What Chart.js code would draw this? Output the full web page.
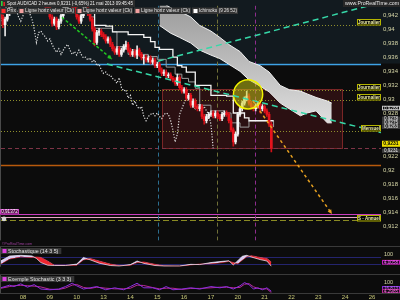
<!DOCTYPE html>
<html>
<head>
<meta charset="utf-8">
<title>Spot AUD/CAD 2 heures</title>
<script src="https://cdn.jsdelivr.net/npm/chart.js@4.4.0/dist/chart.umd.min.js"></script>
<style>
  html, body { margin: 0; padding: 0; background: #0c0c0c; }
  #wrap { position: relative; width: 400px; height: 300px; overflow: hidden; background: #0c0c0c; }
  #wrap canvas { position: absolute; left: 0; }
  .sep { position: absolute; left: 0; width: 400px; height: 1px; background: #3a3a3a; }
</style>
</head>
<body>
<div id="wrap">
  <canvas id="mainChart" width="400" height="246" style="top:0px"></canvas>
  <div class="sep" style="top:246px"></div>
  <canvas id="stochChart" width="400" height="26" style="top:247px"></canvas>
  <div class="sep" style="top:274px"></div>
  <canvas id="stoch2Chart" width="400" height="25" style="top:275px"></canvas>
  <div class="sep" style="top:293px"></div>
</div>
<script>
// ---- data (2h bars, bar 0 = start of 08 May) ----
const firstBar = -10;

const opens = [
  0.9420,0.9417,0.9406,0.9414,0.9422,0.9433,0.9439,0.9444,0.9447,0.9441,
  0.9447,0.9450,0.9444,0.9439,0.9444,0.9450,0.9447,0.9441,0.9439,0.9444,
  0.9439,0.9433,0.9430,0.9417,0.9408,0.9414,0.9403,0.9411,0.9419,0.9428,
  0.9433,0.9436,0.9439,0.9433,0.9428,0.9417,0.9411,0.9419,0.9428,0.9430,
  0.9422,0.9414,0.9400,0.9381,0.9395,0.9397,0.9392,0.9389,0.9383,0.9386,
  0.9378,0.9372,0.9367,0.9372,0.9364,0.9370,0.9375,0.9378,0.9370,0.9364,
  0.9368,0.9363,0.9370,0.9364,0.9359,0.9360,0.9356,0.9359,0.9353,0.9356,
  0.9348,0.9350,0.9342,0.9337,0.9339,0.9334,0.9335,0.9330,0.9328,0.9323,
  0.9331,0.9317,0.9312,0.9314,0.9302,0.9306,0.9292,0.9298,0.9290,0.9287,
  0.9290,0.9276,0.9270,0.9276,0.9279,0.9281,0.9277,0.9281,0.9276,0.9273,
  0.9279,0.9281,0.9279,0.9270,0.9257,0.9240,0.9251,0.9279,0.9287,0.9295,
  0.9301,0.9305,0.9295,0.9290,0.9287,0.9291,0.9294,0.9287,0.9290,0.9284,
  0.9279,0.9265
];
const highs = [
  0.9424,0.9420,0.9417,0.9426,0.9436,0.9442,0.9447,0.9450,0.9450,0.9450,
  0.9453,0.9453,0.9447,0.9447,0.9453,0.9453,0.9450,0.9444,0.9447,0.9447,
  0.9442,0.9436,0.9433,0.9420,0.9417,0.9417,0.9414,0.9422,0.9431,0.9436,
  0.9439,0.9442,0.9442,0.9436,0.9431,0.9420,0.9422,0.9431,0.9433,0.9433,
  0.9425,0.9417,0.9403,0.9398,0.9401,0.9400,0.9395,0.9392,0.9389,0.9389,
  0.9381,0.9375,0.9375,0.9375,0.9373,0.9378,0.9383,0.9381,0.9373,0.9371,
  0.9371,0.9376,0.9373,0.9367,0.9363,0.9363,0.9362,0.9362,0.9359,0.9359,
  0.9353,0.9353,0.9345,0.9342,0.9342,0.9338,0.9338,0.9333,0.9331,0.9336,
  0.9334,0.9320,0.9317,0.9317,0.9309,0.9309,0.9301,0.9301,0.9293,0.9293,
  0.9293,0.9279,0.9279,0.9282,0.9284,0.9284,0.9284,0.9284,0.9279,0.9282,
  0.9284,0.9284,0.9282,0.9273,0.9260,0.9254,0.9282,0.9290,0.9298,0.9304,
  0.9312,0.9308,0.9298,0.9293,0.9294,0.9297,0.9297,0.9293,0.9293,0.9287,
  0.9282,0.9268
];
const lows = [
  0.9413,0.9402,0.9390,0.9411,0.9419,0.9430,0.9436,0.9441,0.9438,0.9438,
  0.9444,0.9441,0.9436,0.9436,0.9441,0.9444,0.9438,0.9436,0.9436,0.9436,
  0.9430,0.9426,0.9414,0.9404,0.9405,0.9399,0.9400,0.9408,0.9416,0.9425,
  0.9430,0.9433,0.9430,0.9425,0.9414,0.9408,0.9408,0.9416,0.9425,0.9419,
  0.9411,0.9397,0.9376,0.9378,0.9391,0.9389,0.9386,0.9380,0.9380,0.9375,
  0.9369,0.9364,0.9364,0.9361,0.9361,0.9367,0.9372,0.9367,0.9361,0.9361,
  0.9360,0.9358,0.9361,0.9356,0.9350,0.9353,0.9353,0.9350,0.9350,0.9345,
  0.9345,0.9339,0.9334,0.9334,0.9331,0.9331,0.9327,0.9325,0.9320,0.9320,
  0.9314,0.9309,0.9309,0.9299,0.9299,0.9289,0.9289,0.9287,0.9284,0.9284,
  0.9273,0.9265,0.9267,0.9273,0.9276,0.9274,0.9274,0.9273,0.9270,0.9270,
  0.9276,0.9276,0.9267,0.9254,0.9234,0.9237,0.9248,0.9276,0.9284,0.9292,
  0.9298,0.9292,0.9287,0.9284,0.9284,0.9288,0.9281,0.9284,0.9281,0.9276,
  0.9262,0.9226
];
const closes = [
  0.9417,0.9406,0.9414,0.9422,0.9433,0.9439,0.9444,0.9447,0.9441,0.9447,
  0.9450,0.9444,0.9439,0.9444,0.9450,0.9447,0.9441,0.9439,0.9444,0.9439,
  0.9433,0.9430,0.9417,0.9408,0.9414,0.9403,0.9411,0.9419,0.9428,0.9433,
  0.9436,0.9439,0.9433,0.9428,0.9417,0.9411,0.9419,0.9428,0.9430,0.9422,
  0.9414,0.9400,0.9381,0.9395,0.9397,0.9392,0.9389,0.9383,0.9386,0.9378,
  0.9372,0.9367,0.9372,0.9364,0.9370,0.9375,0.9378,0.9370,0.9364,0.9368,
  0.9363,0.9370,0.9364,0.9359,0.9360,0.9356,0.9359,0.9353,0.9356,0.9348,
  0.9350,0.9342,0.9337,0.9339,0.9334,0.9335,0.9330,0.9328,0.9323,0.9331,
  0.9317,0.9312,0.9314,0.9302,0.9306,0.9292,0.9298,0.9290,0.9287,0.9290,
  0.9276,0.9270,0.9276,0.9279,0.9281,0.9277,0.9281,0.9276,0.9273,0.9279,
  0.9281,0.9279,0.9270,0.9257,0.9240,0.9251,0.9279,0.9287,0.9295,0.9301,
  0.9305,0.9295,0.9290,0.9287,0.9291,0.9294,0.9287,0.9290,0.9284,0.9279,
  0.9265,0.9231
];

// Ichimoku (9 26 52)
const kijunX = [28, 32, 37, 40, 47, 54, 57, 59, 61, 67, 69, 71, 73, 77, 84, 91, 94, 99, 101, 112];
const kijunY = [0.9425, 0.9405, 0.9404, 0.9396, 0.9392, 0.9388, 0.9382, 0.9374, 0.9371, 0.9360,
                0.9348, 0.9346, 0.9339, 0.9320, 0.9306, 0.9305, 0.9281, 0.9274, 0.9270, 0.9270];
const tenkanX = [30, 32, 40, 42, 45, 47, 53, 56, 60, 64, 68, 71, 74, 77, 79, 84, 90, 93, 97, 101, 107, 112];
const tenkanY = [0.9417, 0.9401, 0.9396, 0.9375, 0.9371, 0.9364, 0.9364, 0.9361, 0.9357, 0.9346, 0.9336,
                 0.9330, 0.9325, 0.9316, 0.9292, 0.9284, 0.9281, 0.9267, 0.9261, 0.9270, 0.9270, 0.9261];
const cloudX = [61, 66, 70, 75, 79, 84, 88, 92, 97, 101, 106, 110, 115, 119, 124, 127, 131, 136, 138];
const cloudTop = [0.9440, 0.9430, 0.9425, 0.9417, 0.9405, 0.9397, 0.9388, 0.9378, 0.9368, 0.9354,
                  0.9348, 0.9339, 0.9320, 0.9314, 0.9312, 0.9308, 0.9303, 0.9298, 0.9295];
const cloudBottom = [0.9405, 0.9394, 0.9388, 0.9380, 0.9370, 0.9363, 0.9358, 0.9350, 0.9340, 0.9328,
                     0.9319, 0.9311, 0.9295, 0.9287, 0.9277, 0.9281, 0.9284, 0.9267, 0.9267];
const chikouShift = 26;

// Stochastique (14 3 5)
const stochX = [-10, -6, -1, 4, 6, 8, 11, 14, 19, 24, 27, 30, 34, 39, 43, 48, 51, 54, 59, 63,
                70, 75, 79, 84, 89, 92, 94, 96, 98, 100, 102, 106, 109, 111];
const stochK = [48, 90, 96, 91, 70, 35, 13, 10, 10, 22, 78, 58, 30, 10, 5, 18, 48, 28, 10, 5,
                6, 20, 18, 35, 45, 50, 15, 50, 88, 96, 82, 60, 48, 4.0058];
const stochD = [22, 65, 83, 78, 82, 78, 48, 13, 12, 13, 57, 70, 48, 22, 10, 12, 35, 40, 20, 8,
                5, 15, 22, 25, 35, 45, 35, 25, 55, 83, 93, 78, 70, 39.158];

// Exemple Stochastic (3 3 3)
const stoch2X = [-10, -6, -4, -1, 2, 5, 8, 12, 16, 19, 22, 24, 27, 30, 33, 37, 41, 45, 48, 51,
                 54, 58, 61, 64, 67, 71, 75, 79, 84, 88, 91, 94, 97, 99, 101, 103, 105, 107, 109, 111];
const stoch2A = [50, 75, 62, 88, 56, 81, 38, 31, 38, 62, 94, 69, 38, 50, 62, 31, 50, 31, 62, 94,
                 50, 50, 31, 62, 31, 38, 50, 38, 62, 50, 62, 38, 69, 100, 81, 38, 50, 31, 50, 16.813];
const stoch2B = [45, 62, 70, 74, 70, 66, 58, 36, 34, 48, 76, 82, 54, 44, 56, 46, 40, 40, 46, 76,
                 72, 52, 40, 46, 46, 34, 44, 44, 50, 56, 56, 50, 54, 84, 90, 60, 44, 40, 40, 4.2985];

// x axis
const dayBars = [0, 12, 24, 36, 48, 60, 72, 84, 96, 108, 120, 132, 144, 156];
const dayLabels = ['08', '09', '10', '13', '14', '15', '16', '17', '20', '21', '22', '23', '24', '26'];
const priceTicksHidden = [0.926, 0.924];

// drawn objects (bar index / price)
const hLines = [
  { v: 0.9405, color: '#8e8e2c', dash: [1, 2], w: 1 },
  { v: 0.9351, color: '#3ea2e6', dash: [], w: 1.5 },
  { v: 0.9313, color: '#8e8e2c', dash: [1, 2], w: 1 },
  { v: 0.9299, color: '#8e8e2c', dash: [1, 2], w: 1 },
  { v: 0.9255, color: '#8e8e2c', dash: [1, 2], w: 1 },
  { v: 0.92315, color: '#7e3446', dash: [4, 3], w: 1 },
  { v: 0.9207, color: '#b85a0c', dash: [], w: 1.5 },
  { v: 0.91372, color: '#c93cc0', dash: [], w: 1 },
  { v: 0.9134, color: '#e6a6c6', dash: [], w: 1 },
  { v: 0.9130, color: '#8a8a22', dash: [6, 3], w: 1 }
];
const lineTags = [
  { v: 0.9405, text: 'Journalier' },
  { v: 0.9313, text: 'Journalier' },
  { v: 0.9299, text: 'Journalier' },
  { v: 0.9255, text: 'Mensuel' },
  { v: 0.9134, text: 'S - Annuel' }
];
const vLines = [
  { x: 60.3, color: '#2d6f90' },
  { x: 86.7, color: '#707038' },
  { x: 103.7, color: '#8e2e8e' }
];
const trendLines = [
  { x1: 60.3, y1: 0.93544, x2: 160, y2: 0.94375, color: '#36d8a8', dash: [6, 4], arrow: false },
  { x1: 37.5, y1: 0.93503, x2: 160, y2: 0.92533, color: '#36d8a8', dash: [6, 4], arrow: false },
  { x1: 17.4, y1: 0.94165, x2: 39.8, y2: 0.93572, color: '#22c422', dash: [3, 2], arrow: true },
  { x1: 102.8, y1: 0.92979, x2: 138.1, y2: 0.91378, color: '#e6a020', dash: [3, 3], arrow: true }
];
const zoneRect = { x1: 62.1, y1: 0.93144, x2: 142.6, y2: 0.92303 };
const circle = { x: 100.6, y: 0.93075, r: 0.00207 };
const axisTags = [
  { v: 0.9288, dy: 0, text: '0,9288', kind: 'outline' },
  { v: 0.9278, dy: 3.6, text: '0,9278', kind: 'gray' },
  { v: 0.9275, dy: 5.4, text: '0,9275', kind: 'gray' },
  { v: 0.9263, dy: 1.2, text: '0,9263', kind: 'gray' },
  { v: 0.9231, dy: -4.5, text: '0,9231', kind: 'yellow' },
  { v: 0.9231, dy: 2.5, text: '0,9231', kind: 'gray' }
];

const X_MIN = -9.834, X_MAX = 160.02;
const FONT = '"Liberation Sans", Arial, sans-serif';
Chart.defaults.font.family = FONT;

function fmtPrice(v) {
  const s = Number(v.toFixed(3));
  if (priceTicksHidden.includes(s)) return '';
  return String(s).replace('.', ',');
}

function rightAxis(width) {
  return function (scale) { scale.width = width; };
}

function drawBox(ctx, x, y, w, h, bg, border, fg, text, font) {
  ctx.fillStyle = bg;
  ctx.fillRect(x, y, w, h);
  if (border) {
    ctx.strokeStyle = border;
    ctx.lineWidth = 1;
    ctx.setLineDash([]);
    ctx.strokeRect(x + 0.5, y + 0.5, w - 1, h - 1);
  }
  ctx.fillStyle = fg;
  ctx.font = font;
  ctx.textAlign = 'center';
  ctx.textBaseline = 'middle';
  ctx.fillText(text, x + w / 2, y + h / 2 + 0.3, w - 2);
}

function drawArrowHead(ctx, x1, y1, x2, y2, color) {
  const a = Math.atan2(y2 - y1, x2 - x1);
  const s = 5;
  ctx.setLineDash([]);
  ctx.fillStyle = color;
  ctx.beginPath();
  ctx.moveTo(x2, y2);
  ctx.lineTo(x2 - s * Math.cos(a - 0.45), y2 - s * Math.sin(a - 0.45));
  ctx.lineTo(x2 - s * Math.cos(a + 0.45), y2 - s * Math.sin(a + 0.45));
  ctx.closePath();
  ctx.fill();
}

// main panel drawings
const mainDecor = {
  id: 'mainDecor',
  beforeDraw(chart) {
    const ctx = chart.ctx, ys = chart.scales.y;
    ctx.save();
    ctx.fillStyle = '#0c0c0c';
    ctx.fillRect(0, 0, chart.width, chart.height);
    ctx.fillStyle = '#121a1f';
    ctx.fillRect(0, 0, chart.width, ys.getPixelForValue(0.9351));
    ctx.fillStyle = '#4a4a4a';
    ctx.fillRect(0, 0, 1, chart.chartArea.bottom);
    ctx.restore();
  },
  beforeDatasetsDraw(chart) {
    const ctx = chart.ctx, xs = chart.scales.x, ys = chart.scales.y, a = chart.chartArea;
    ctx.save();
    ctx.beginPath();
    ctx.rect(a.left, a.top, a.right - a.left, a.bottom - a.top);
    ctx.clip();
    // zone rectangle
    const rx1 = xs.getPixelForValue(zoneRect.x1), rx2 = xs.getPixelForValue(zoneRect.x2);
    const ry1 = ys.getPixelForValue(zoneRect.y1), ry2 = ys.getPixelForValue(zoneRect.y2);
    ctx.fillStyle = 'rgba(110,25,30,0.32)';
    ctx.fillRect(rx1, ry1, rx2 - rx1, ry2 - ry1);
    ctx.strokeStyle = '#7a2626';
    ctx.lineWidth = 1;
    ctx.strokeRect(Math.round(rx1) + 0.5, Math.round(ry1) + 0.5, Math.round(rx2 - rx1), Math.round(ry2 - ry1));
    // horizontal levels
    hLines.forEach(l => {
      const y = Math.round(ys.getPixelForValue(l.v)) + 0.5;
      ctx.strokeStyle = l.color;
      ctx.lineWidth = l.w;
      ctx.setLineDash(l.dash);
      ctx.beginPath();
      ctx.moveTo(a.left, y);
      ctx.lineTo(a.right, y);
      ctx.stroke();
    });
    // vertical markers
    vLines.forEach(l => {
      const x = Math.round(xs.getPixelForValue(l.x)) + 0.5;
      ctx.strokeStyle = l.color;
      ctx.lineWidth = 1;
      ctx.setLineDash([4, 3]);
      ctx.beginPath();
      ctx.moveTo(x, a.top);
      ctx.lineTo(x, chart.height);
      ctx.stroke();
    });
    ctx.restore();
  },
  afterDatasetsDraw(chart) {
    const ctx = chart.ctx, xs = chart.scales.x, ys = chart.scales.y, a = chart.chartArea;
    ctx.save();
    ctx.beginPath();
    ctx.rect(a.left, a.top, a.right - a.left, a.bottom - a.top);
    ctx.clip();
    // circle
    const cx = xs.getPixelForValue(circle.x), cy = ys.getPixelForValue(circle.y);
    const r = Math.abs(ys.getPixelForValue(circle.y + circle.r) - cy);
    ctx.fillStyle = 'rgba(205,205,20,0.5)';
    ctx.beginPath();
    ctx.arc(cx, cy, r, 0, Math.PI * 2);
    ctx.fill();
    ctx.strokeStyle = '#f2f200';
    ctx.lineWidth = 1.5;
    ctx.setLineDash([]);
    ctx.stroke();
    // trend lines and arrows
    trendLines.forEach(t => {
      const x1 = xs.getPixelForValue(t.x1), y1 = ys.getPixelForValue(t.y1);
      const x2 = xs.getPixelForValue(t.x2), y2 = ys.getPixelForValue(t.y2);
      ctx.strokeStyle = t.color;
      ctx.lineWidth = 1.5;
      ctx.setLineDash(t.dash);
      ctx.beginPath();
      ctx.moveTo(x1, y1);
      ctx.lineTo(x2, y2);
      ctx.stroke();
      if (t.arrow) drawArrowHead(ctx, x1, y1, x2, y2, t.color);
    });
    // little alert dot
    ctx.fillStyle = '#d4d4d4';
    ctx.beginPath();
    ctx.arc(xs.getPixelForValue(-8.5), ys.getPixelForValue(0.91309), 2.4, 0, Math.PI * 2);
    ctx.fill();
    ctx.restore();
  },
  afterDraw(chart) {
    const ctx = chart.ctx, ys = chart.scales.y, a = chart.chartArea;
    ctx.save();
    ctx.setLineDash([]);
    // level tags
    const boldFont = 'bold 5px ' + FONT;
    lineTags.forEach(t => {
      const y = Math.round(ys.getPixelForValue(t.v));
      const w = t.text === 'Mensuel' ? 20 : 24;
      const top = t.text === 'S - Annuel' ? y - 2 : y - 6;
      drawBox(ctx, a.right - w, top, w, 6.5, '#060606', '#b4b400', '#f4f4a8', t.text, boldFont);
    });
    // left value label
    drawBox(ctx, 0, Math.round(ys.getPixelForValue(0.91372)) - 5, 19, 5.5, '#5a1050', '#c93cc0', '#ffffff', '0,91372', '4.5px ' + FONT);
    // axis value boxes
    const smallFont = '4.6px ' + FONT;
    axisTags.forEach(t => {
      const y = ys.getPixelForValue(t.v) + t.dy;
      if (t.kind === 'yellow') {
        drawBox(ctx, a.right + 1, y - 3, 18, 6, '#f0e000', null, '#000000', t.text, 'bold 5px ' + FONT);
      } else if (t.kind === 'outline') {
        drawBox(ctx, a.right + 1, y - 2.3, 18, 4.6, '#111111', '#c8c8c8', '#e8e8e8', t.text, smallFont);
      } else {
        drawBox(ctx, a.right + 1, y - 2.1, 18, 4.2, '#3a3a3a', null, '#ececec', t.text, smallFont);
      }
    });
    // title bar
    ctx.fillStyle = '#2c2c2c';
    ctx.fillRect(0, 0, 135, 7);
    ctx.fillStyle = '#2fcf3f';
    ctx.fillRect(1, 1, 1.6, 5);
    ctx.fillStyle = '#e02222';
    ctx.fillRect(3.4, 2, 1.6, 4);
    ctx.fillStyle = '#f2f2f2';
    ctx.font = '5.5px ' + FONT;
    ctx.textAlign = 'left';
    ctx.textBaseline = 'middle';
    ctx.fillText('Spot AUD/CAD 2 heures 0,9231 (-0,65%) 21 mai 2013 09:45:45', 7, 3.8, 126);
    ctx.fillStyle = '#262626';
    ctx.fillRect(343, 0, 57, 7);
    ctx.fillStyle = '#e8e8e8';
    ctx.fillText('www.ProRealTime.com', 345, 3.8, 54);
    // legend row
    const legend = [
      { text: 'Prix', color: '#ff2a2a', x: 0, w: 17 },
      { text: 'Ligne horiz valeur (Ck)', color: '#f2a0a0', x: 18, w: 57 },
      { text: 'Ligne horiz valeur (Ck)', color: '#f2a0a0', x: 76, w: 57 },
      { text: 'Ligne horiz valeur (Ck)', color: '#f2a0a0', x: 134, w: 57 },
      { text: 'Ichimoku (9 26 52)', color: '#ffffff', x: 192, w: 46 }
    ];
    legend.forEach(l => {
      ctx.fillStyle = '#353535';
      ctx.fillRect(l.x, 7.5, l.w, 6.5);
      ctx.fillStyle = l.color;
      ctx.fillRect(l.x + 1.5, 9, 4, 4);
      ctx.fillStyle = '#e4e4e4';
      ctx.font = '5.3px ' + FONT;
      ctx.textAlign = 'left';
      ctx.fillText(l.text, l.x + 7, 11, l.w - 8);
    });
    // watermark between panels
    ctx.fillStyle = '#a040a0';
    ctx.font = '4px ' + FONT;
    ctx.fillText('\u00a9ProRealTime.com', 2, 243.5, 30);
    ctx.restore();
  }
};

function panelDecor(title, refLines, valueBoxes) {
  return {
    id: 'panelDecor',
    beforeDraw(chart) {
      const ctx = chart.ctx;
      ctx.save();
      ctx.fillStyle = '#0c0c0c';
      ctx.fillRect(0, 0, chart.width, chart.height);
      ctx.fillStyle = '#4a4a4a';
      ctx.fillRect(0, 0, 1, chart.chartArea.bottom);
      ctx.restore();
    },
    beforeDatasetsDraw(chart) {
      const ctx = chart.ctx, ys = chart.scales.y, a = chart.chartArea;
      ctx.save();
      ctx.strokeStyle = '#24246e';
      ctx.lineWidth = 1;
      refLines.forEach(v => {
        const y = Math.round(ys.getPixelForValue(v)) + 0.5;
        ctx.beginPath();
        ctx.moveTo(a.left, y);
        ctx.lineTo(a.right, y);
        ctx.stroke();
      });
      ctx.restore();
    },
    afterDraw(chart) {
      const ctx = chart.ctx, ys = chart.scales.y, a = chart.chartArea;
      ctx.save();
      ctx.font = '5.3px ' + FONT;
      const w = ctx.measureText(title).width + 10;
      ctx.fillStyle = '#353535';
      ctx.fillRect(1, 1, w, 6);
      ctx.fillStyle = '#e040e0';
      ctx.fillRect(2.5, 2, 4, 4);
      ctx.fillStyle = '#e4e4e4';
      ctx.textAlign = 'left';
      ctx.textBaseline = 'middle';
      ctx.fillText(title, 8, 4.2);
      valueBoxes.forEach(b => {
        const y = ys.getPixelForValue(b.v) + b.dy;
        drawBox(ctx, a.right + 1, y - 2.2, 18, 4.6, b.bg, b.border, b.fg, b.text, '4.6px ' + FONT);
      });
      ctx.restore();
    }
  };
}

const axisTickColor = '#d8d8a8';

// main price chart
new Chart(document.getElementById('mainChart'), {
  type: 'bar',
  data: {
    datasets: [
      {
        type: 'bar',
        label: 'Prix',
        data: closes.map((c, n) => ({ x: firstBar + n, y: [opens[n], c] })),
        backgroundColor: closes.map((c, n) => c >= opens[n] ? '#f4f4f4' : '#e6131c'),
        barThickness: 2,
        grouped: false,
        borderWidth: 0,
        order: 0
      },
      {
        type: 'bar',
        label: 'Mèches',
        data: closes.map((c, n) => ({ x: firstBar + n, y: [lows[n], highs[n]] })),
        backgroundColor: closes.map((c, n) => c >= opens[n] ? '#e8e8e8' : '#d01018'),
        barThickness: 1,
        grouped: false,
        borderWidth: 0,
        order: 1
      },
      {
        type: 'line',
        label: 'Kijun',
        data: kijunX.map((x, k) => ({ x: x, y: kijunY[k] })),
        borderColor: '#f4f4f4',
        borderWidth: 1.3,
        stepped: true,
        pointRadius: 0,
        order: 2
      },
      {
        type: 'line',
        label: 'Tenkan',
        data: tenkanX.map((x, k) => ({ x: x, y: tenkanY[k] })),
        borderColor: '#9a9a9a',
        borderWidth: 1,
        stepped: true,
        pointRadius: 0,
        order: 3
      },
      {
        type: 'line',
        label: 'Chikou',
        data: closes.map((c, n) => ({ x: firstBar + n - chikouShift, y: c })),
        borderColor: '#e2e2e2',
        borderWidth: 1.2,
        borderDash: [1.2, 1.6],
        pointRadius: 0,
        order: 4
      },
      {
        type: 'line',
        label: 'Senkou A',
        data: cloudX.map((x, k) => ({ x: x, y: cloudTop[k] })),
        borderColor: '#f0f0f0',
        borderWidth: 1,
        pointRadius: 0,
        fill: '+1',
        backgroundColor: function (context) {
          const chart = context.chart, a = chart.chartArea;
          if (!a) return '#bdbdbd';
          const g = chart.ctx.createLinearGradient(0, a.top, 0, chart.scales.y.getPixelForValue(0.9267));
          g.addColorStop(0, '#9c9c9c');
          g.addColorStop(1, '#dedede');
          return g;
        },
        order: 6
      },
      {
        type: 'line',
        label: 'Senkou B',
        data: cloudX.map((x, k) => ({ x: x, y: cloudBottom[k] })),
        borderColor: '#f0f0f0',
        borderWidth: 1,
        pointRadius: 0,
        fill: false,
        order: 5
      }
    ]
  },
  options: {
    responsive: false,
    animation: false,
    events: [],
    layout: { padding: { left: 1, right: 0, top: 0, bottom: 5 } },
    plugins: { legend: { display: false }, tooltip: { enabled: false } },
    scales: {
      x: { type: 'linear', min: X_MIN, max: X_MAX, offset: false, display: false, grid: { offset: false } },
      y: {
        type: 'linear', position: 'right', min: 0.91005, max: 0.94331, beginAtZero: false,
        grid: { display: false, drawTicks: false },
        border: { display: false },
        afterFit: rightAxis(19),
        ticks: {
          stepSize: 0.002, includeBounds: false, padding: 2,
          color: axisTickColor, font: { size: 6 },
          callback: fmtPrice
        }
      }
    }
  },
  plugins: [mainDecor]
});

// Stochastique (14 3 5)
new Chart(document.getElementById('stochChart'), {
  type: 'line',
  data: {
    datasets: [
      {
        label: '%K',
        data: stochX.map((x, k) => ({ x: x, y: stochK[k] })),
        borderColor: 'rgba(240,235,250,0.9)',
        borderWidth: 0.8,
        pointRadius: 0,
        fill: { target: '+1', above: '#d8caf0', below: '#ef2630' }
      },
      {
        label: '%D',
        data: stochX.map((x, k) => ({ x: x, y: stochD[k] })),
        borderColor: '#c8283a',
        borderWidth: 0.8,
        pointRadius: 0,
        fill: false
      }
    ]
  },
  options: {
    responsive: false,
    animation: false,
    events: [],
    layout: { padding: { left: 1, right: 0, top: 0, bottom: 0 } },
    plugins: { legend: { display: false }, tooltip: { enabled: false } },
    scales: {
      x: { type: 'linear', min: X_MIN, max: X_MAX, display: false },
      y: {
        position: 'right', min: 0, max: 113,
        grid: { display: false, drawTicks: false },
        border: { display: false },
        afterFit: rightAxis(19),
        afterBuildTicks: function (scale) { scale.ticks = [{ value: 100 }]; },
        ticks: { padding: 3, color: axisTickColor, font: { size: 5.5 } }
      }
    }
  },
  plugins: [panelDecor('Stochastique (14 3 5)', [80, 20], [
    { v: stochD[stochD.length - 1], dy: 0, text: '39,158', bg: '#b02838', border: null, fg: '#ffffff' },
    { v: stochK[stochK.length - 1], dy: -4, text: '4,0058', bg: '#1c0a1c', border: '#c020c0', fg: '#ff70ff' }
  ])]
});

// Exemple Stochastic (3 3 3)
new Chart(document.getElementById('stoch2Chart'), {
  type: 'line',
  data: {
    datasets: [
      {
        label: 'A',
        data: stoch2X.map((x, k) => ({ x: x, y: stoch2A[k] })),
        borderColor: '#8a30e0',
        borderWidth: 1,
        pointRadius: 0
      },
      {
        label: 'B',
        data: stoch2X.map((x, k) => ({ x: x, y: stoch2B[k] })),
        borderColor: '#b82a96',
        borderWidth: 1,
        pointRadius: 0
      }
    ]
  },
  options: {
    responsive: false,
    animation: false,
    events: [],
    layout: { padding: { left: 1, right: 0, top: 0, bottom: 0 } },
    plugins: { legend: { display: false }, tooltip: { enabled: false } },
    scales: {
      x: {
        type: 'linear', min: X_MIN, max: X_MAX,
        grid: { display: false, drawTicks: false },
        border: { display: false },
        afterFit: function (scale) { scale.height = 7; },
        afterBuildTicks: function (scale) { scale.ticks = dayBars.map(v => ({ value: v })); },
        ticks: {
          autoSkip: false, maxRotation: 0, padding: 1,
          color: '#c8c878', font: { size: 6 },
          callback: function (v) { return dayLabels[dayBars.indexOf(v)]; }
        }
      },
      y: {
        position: 'right', min: 0, max: 112.5,
        grid: { display: false, drawTicks: false },
        border: { display: false },
        afterFit: rightAxis(19),
        afterBuildTicks: function (scale) { scale.ticks = [{ value: 100 }]; },
        ticks: { padding: 3, color: axisTickColor, font: { size: 5.5 } }
      }
    }
  },
  plugins: [panelDecor('Exemple Stochastic (3 3 3)', [], [
    { v: stoch2A[stoch2A.length - 1], dy: -3, text: '16,813', bg: '#1c0a24', border: '#8a30e0', fg: '#c080ff' },
    { v: stoch2B[stoch2B.length - 1], dy: -1.5, text: '4,2985', bg: '#1c0a1c', border: '#b82a96', fg: '#ff70e0' }
  ])]
});
</script>
</body>
</html>
